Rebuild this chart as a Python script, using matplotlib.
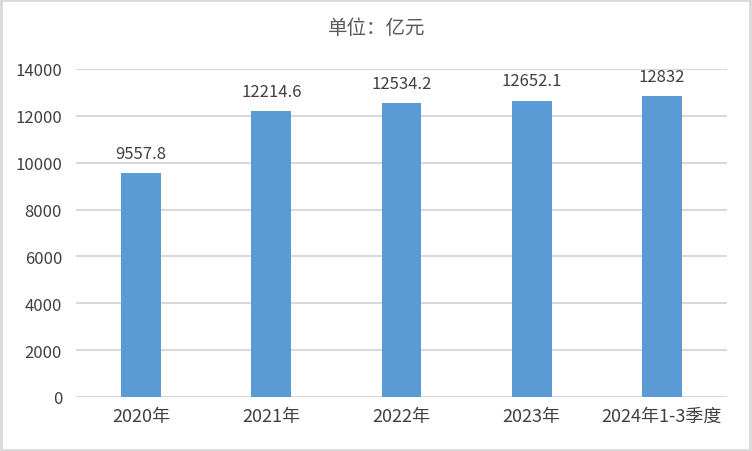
import matplotlib
matplotlib.use("Agg")
from matplotlib import pyplot as plt
from matplotlib.patches import Rectangle

plt.rcParams['font.family'] = ['Noto Sans CJK SC', 'DejaVu Sans']

# data
categories = ["2020年", "2021年", "2022年", "2023年", "2024年1-3季度"]
values = [9557.8, 12214.6, 12534.2, 12652.1, 12832]
labels = ["9557.8", "12214.6", "12534.2", "12652.1", "12832"]
yticks = [0, 2000, 4000, 6000, 8000, 10000, 12000, 14000]

fig = plt.figure(figsize=(7.52, 4.52), dpi=100)
ax = fig.add_axes([76/752, 54/452, 651/752, 328/452])

x = list(range(len(categories)))
bars = ax.bar(x, values, width=0.307, color="#5B9BD5", zorder=3)

for xi, v, lab in zip(x, values, labels):
    ax.annotate(lab, (xi, v), xytext=(0, 8), textcoords="offset points",
                ha="center", va="bottom", fontsize=12, color="#404040")

ax.set_xlim(-0.5, len(categories) - 0.5)
ax.set_ylim(0, 14000)
ax.set_yticks(yticks)
ax.set_yticklabels([str(t) for t in yticks])
ax.set_xticks(x)
ax.set_xticklabels(categories, fontsize=13)
ax.tick_params(axis="both", length=0, labelsize=12, labelcolor="#404040")
ax.tick_params(axis="x", labelsize=13, pad=7)
ax.tick_params(axis="y", pad=10)
ax.grid(axis="y", color="#d9d9d9", linewidth=1.5, zorder=0)
for s in ax.spines.values():
    s.set_visible(False)

fig.text(377/752, 1 - 28/452, "单位：亿元", ha="center", va="center",
         fontsize=14, color="#595959")

# outer border
fig.patches.append(Rectangle((0.001, 0.002), 0.997, 0.995, transform=fig.transFigure,
                             fill=False, edgecolor="#d9d9d9", linewidth=2))

fig.savefig("out.png", dpi=100)
